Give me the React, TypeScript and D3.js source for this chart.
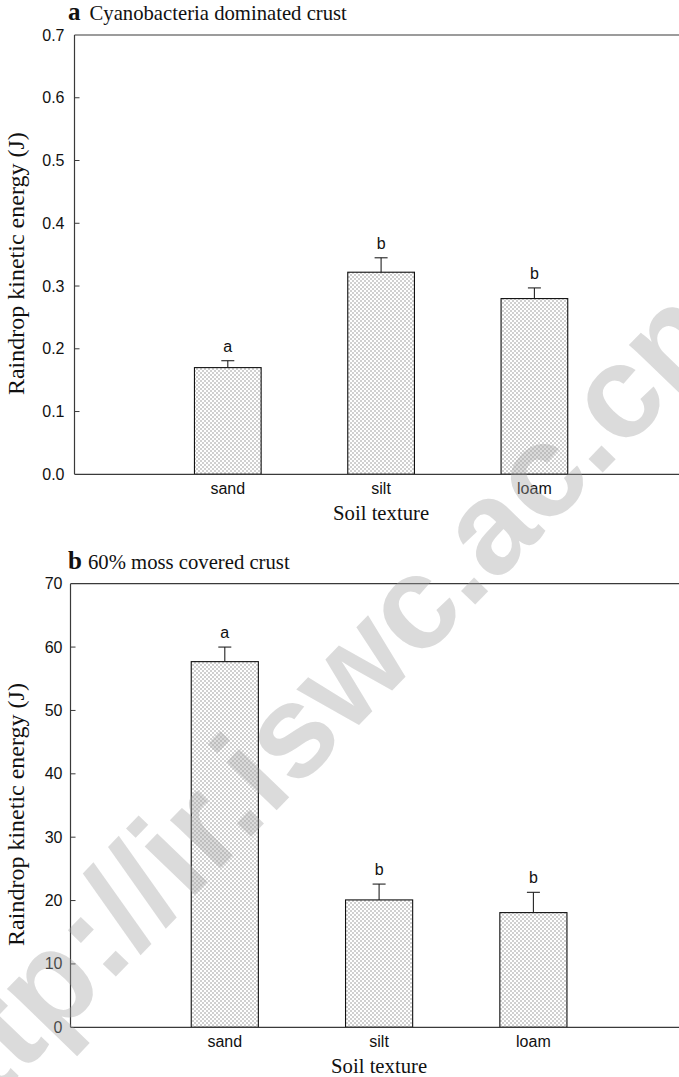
import React from "react";
import * as d3 from "d3";

const categories = ["sand", "silt", "loam"];
const valuesA = [0.170, 0.322, 0.280];
const errorsA = [0.011, 0.023, 0.017];
const lettersA = ["a", "b", "b"];
const ticksA = [0, 0.1, 0.2, 0.3, 0.4, 0.5, 0.6, 0.7];

const valuesB = [57.7, 20.1, 18.1];
const errorsB = [2.3, 2.5, 3.2];
const lettersB = ["a", "b", "b"];
const ticksB = [0, 10, 20, 30, 40, 50, 60, 70];

const SANS = "'Liberation Sans', Arial, sans-serif";
const SERIF = "'Liberation Serif', 'Times New Roman', serif";

type PanelProps = {
  left: number; top: number; bottom: number; right: number;
  values: number[]; errors: number[]; letters: string[]; ticks: number[];
  max: number; fmt: (v: number) => string; labelGap: number;
  tag: string; title: string; titleX: number; titleY: number;
};

function Panel(p: PanelProps) {
  const x = d3.scaleLinear().domain([0, 4]).range([p.left, p.right]);
  const y = d3.scaleLinear().domain([0, p.max]).range([p.bottom, p.top]);
  const bw = (x(1) - x(0)) * 0.435;
  const axisColor = "#3a3a3a";
  return (
    <g>
      <text x={68} y={p.titleY} fontFamily={SERIF} fontWeight="bold" fontSize={25} fill="#111">{p.tag}</text>
      <text x={p.titleX} y={p.titleY} fontFamily={SERIF} fontSize={20.7} fill="#111">{p.title}</text>
      {categories.map((c, i) => {
        const cx = x(i + 1);
        const top = y(p.values[i]);
        const et = y(p.values[i] + p.errors[i]);
        return (
          <g key={c}>
            <rect x={cx - bw / 2} y={top} width={bw} height={p.bottom - top} fill="url(#dots)" stroke="#111" strokeWidth={1.1} />
            <line x1={cx} x2={cx} y1={top} y2={et} stroke="#222" strokeWidth={1.1} />
            <line x1={cx - 6.5} x2={cx + 6.5} y1={et} y2={et} stroke="#222" strokeWidth={1.1} />
            <text x={cx} y={et - 9} textAnchor="middle" fontFamily={SANS} fontSize={16} fill="#111">{p.letters[i]}</text>
            <text x={cx} y={p.bottom + 20} textAnchor="middle" fontFamily={SANS} fontSize={16} fill="#111">{c}</text>
          </g>
        );
      })}
      <line x1={p.left} x2={p.left} y1={p.top} y2={p.bottom} stroke={axisColor} strokeWidth={1.2} />
      <line x1={p.left} x2={p.right} y1={p.top} y2={p.top} stroke={axisColor} strokeWidth={1.2} />
      <line x1={p.left} x2={p.right} y1={p.bottom} y2={p.bottom} stroke={axisColor} strokeWidth={1.2} />
      <line x1={p.right} x2={p.right} y1={p.top} y2={p.bottom} stroke={axisColor} strokeWidth={1.2} />
      {p.ticks.map((t) => (
        <g key={t}>
          {t > 0 && t < p.max ? (
            <line x1={p.left} x2={p.left + 5} y1={y(t)} y2={y(t)} stroke={axisColor} strokeWidth={1} />
          ) : null}
          <text x={p.left - p.labelGap} y={y(t) + 5.5} textAnchor="end" fontFamily={SANS} fontSize={16} fill="#111">{p.fmt(t)}</text>
        </g>
      ))}
      <text x={(p.left + p.right) / 2} y={p.bottom + 46} textAnchor="middle" fontFamily={SERIF} fontSize={20.7} fill="#111">Soil texture</text>
      <text transform={`translate(24,${(p.top + p.bottom) / 2 + 9}) rotate(-90)`} textAnchor="middle" fontFamily={SERIF} fontSize={24} fill="#111">Raindrop kinetic energy (J)</text>
    </g>
  );
}

export default function App() {
  const f1 = d3.format(".1f");
  const f0 = d3.format("d");
  return (
    <svg width={679} height={1077} style={{ position: "absolute", left: 0, top: 0, display: "block", background: "#fff" }}>
      <defs>
        <pattern id="dots" width={4} height={4} patternUnits="userSpaceOnUse">
          <rect width={4} height={4} fill="#fff" />
          <rect x={0.5} y={0.5} width={1} height={1} fill="#444" />
          <rect x={2.5} y={2.5} width={1} height={1} fill="#444" />
        </pattern>
      </defs>
      <rect width={679} height={1077} fill="#fff" />
      <Panel left={74.5} right={687.7} top={35} bottom={474.3} values={valuesA} errors={errorsA} letters={lettersA}
        ticks={ticksA} max={0.7} fmt={f1} labelGap={10} tag="a" title="Cyanobacteria dominated crust" titleX={89.5} titleY={20} />
      <Panel left={70.5} right={687.7} top={583.7} bottom={1027.3} values={valuesB} errors={errorsB} letters={lettersB}
        ticks={ticksB} max={70} fmt={f0} labelGap={8} tag="b" title="60% moss covered crust" titleX={88} titleY={569} />
      <text transform="translate(-66,1165) rotate(-46)" fontFamily={SANS} fontWeight="bold" fontSize={132} fill="#a0a0a0" fillOpacity={0.38}>http://ir.iswc.ac.cn</text>
    </svg>
  );
}
